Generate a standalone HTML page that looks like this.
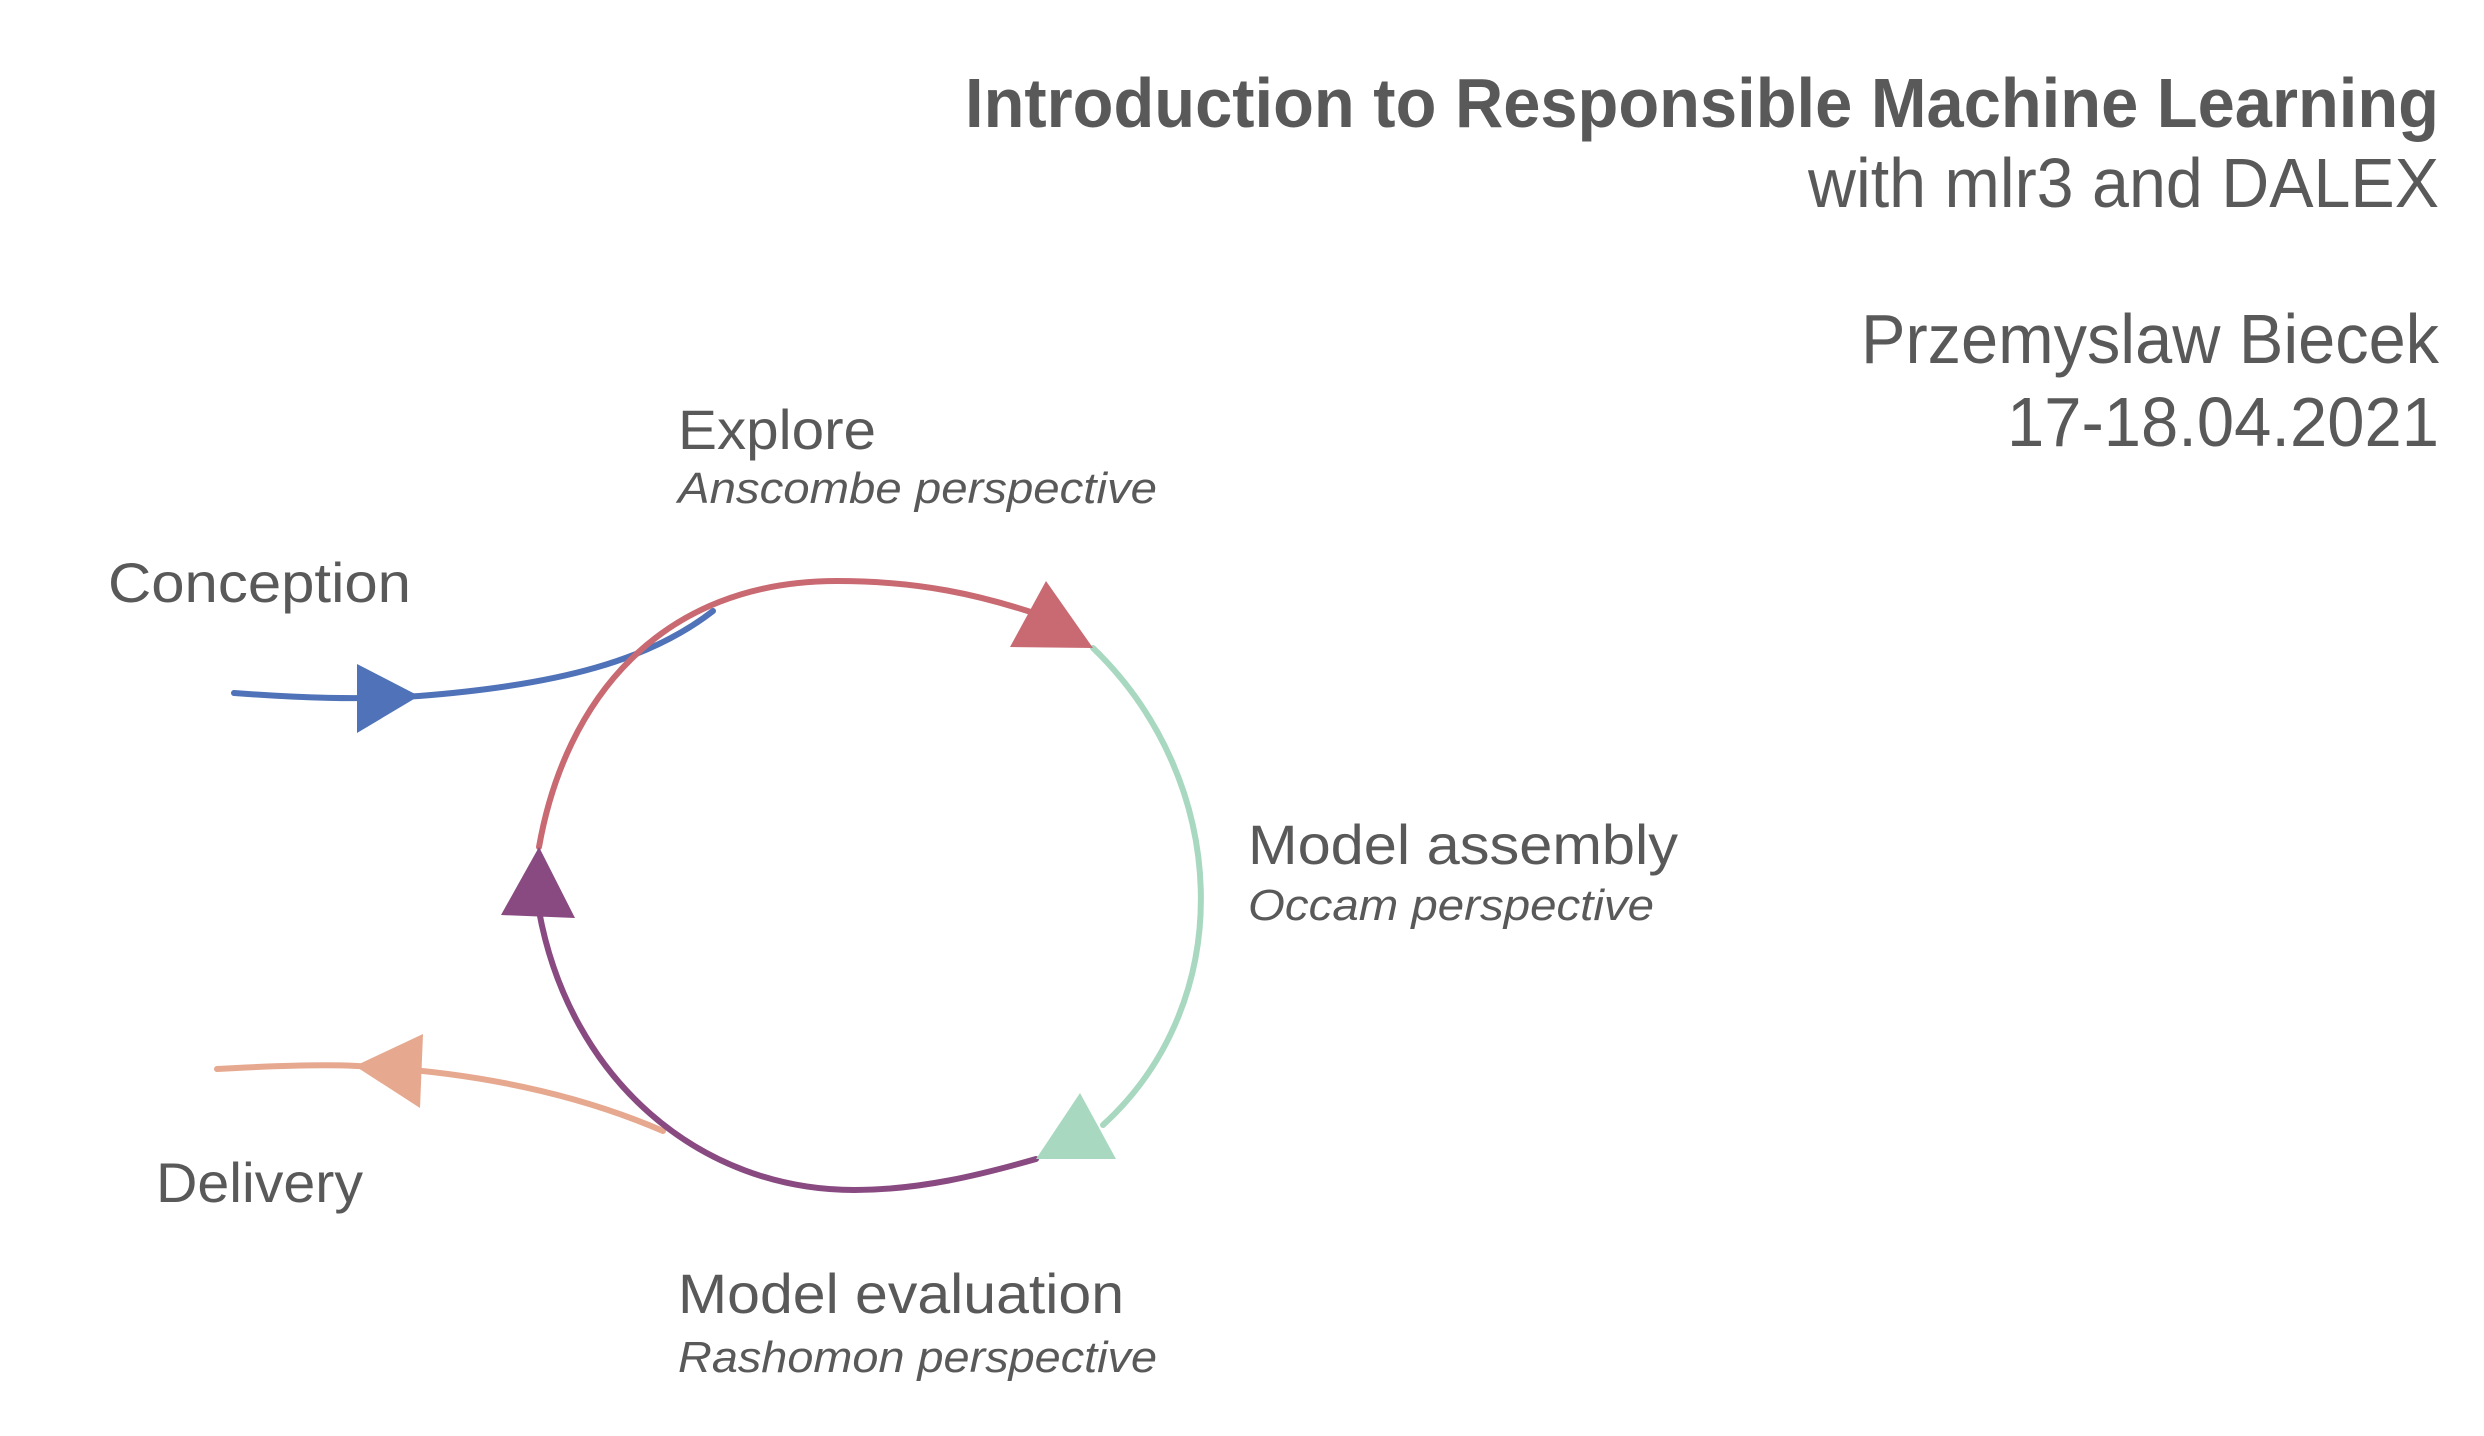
<!DOCTYPE html>
<html><head><meta charset="utf-8"><style>
html,body{margin:0;padding:0;background:#fff;width:2484px;height:1436px;overflow:hidden}
text{font-family:"Liberation Sans",Arial,sans-serif;fill:#595959}
</style></head><body>
<svg width="2484" height="1436" viewBox="0 0 2484 1436" xmlns="http://www.w3.org/2000/svg">
<rect x="0" y="0" width="2484" height="1436" fill="#fff"/>
<text x="965" y="127" font-size="70" font-weight="bold" textLength="1474" lengthAdjust="spacingAndGlyphs">Introduction to Responsible Machine Learning</text>
<text x="1808" y="207" font-size="70" textLength="631" lengthAdjust="spacingAndGlyphs">with mlr3 and DALEX</text>
<text x="1861" y="363" font-size="70" textLength="578" lengthAdjust="spacingAndGlyphs">Przemyslaw Biecek</text>
<text x="2007" y="446" font-size="70" textLength="432" lengthAdjust="spacingAndGlyphs">17-18.04.2021</text>

<text x="678" y="449" font-size="56" textLength="198" lengthAdjust="spacingAndGlyphs">Explore</text>
<text x="678" y="503" font-size="44" font-style="italic" textLength="479" lengthAdjust="spacingAndGlyphs">Anscombe perspective</text>
<text x="108" y="602" font-size="56" textLength="303" lengthAdjust="spacingAndGlyphs">Conception</text>
<text x="1248" y="864" font-size="56" textLength="430" lengthAdjust="spacingAndGlyphs">Model assembly</text>
<text x="1248" y="920" font-size="44" font-style="italic" textLength="406" lengthAdjust="spacingAndGlyphs">Occam perspective</text>
<text x="156" y="1202" font-size="56" textLength="207" lengthAdjust="spacingAndGlyphs">Delivery</text>
<text x="678" y="1313" font-size="56" textLength="446" lengthAdjust="spacingAndGlyphs">Model evaluation</text>
<text x="678" y="1372" font-size="44" font-style="italic" textLength="479" lengthAdjust="spacingAndGlyphs">Rashomon perspective</text>

<g fill="none" stroke-width="6" stroke-linecap="round">
<path d="M234,693 C300,698 360,700 419,696 C560,685 650,660 713,611" stroke="#4f72b8"/>
<path d="M217,1069 C270,1066 320,1064 357,1066 C480,1072 580,1095 663,1131" stroke="#e6a88f"/>
<path d="M539,847 C565,700 660,581 837,581 C920,581 980,595 1040,615" stroke="#c96a72"/>
<path d="M1093,648 C1230,780 1240,1000 1103,1125" stroke="#a8d8c0"/>
<path d="M1036,1159 C980,1175 920,1190 854,1190 C700,1190 570,1080 539,911" stroke="#884a80"/>
</g>
<polygon points="1046,581 1010,647 1093,648" fill="#c96a72"/>
<polygon points="1080,1093 1036,1159 1116,1159" fill="#a8d8c0"/>
<polygon points="539,847 501,915 575,918" fill="#884a80"/>
<polygon points="357,664 419,696 357,733" fill="#4f72b8"/>
<polygon points="423,1034 355,1066 420,1108" fill="#e6a88f"/>
</svg>
</body></html>
